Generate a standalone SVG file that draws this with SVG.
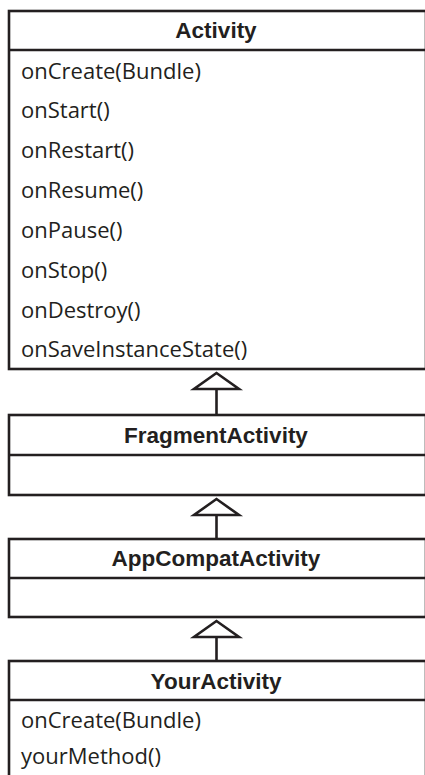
<svg xmlns="http://www.w3.org/2000/svg" width="425" height="775" viewBox="0 0 425 775">
<style>
.box{fill:#fff;stroke:#231f20;stroke-width:2.6}
.div{stroke:#231f20;stroke-width:2.6}
.title{font-family:"Liberation Sans",Arial,sans-serif;font-weight:bold;font-size:22.5px;fill:#231f20;text-anchor:middle}
.m{font-family:"Open Sans","Noto Sans",sans-serif;font-size:22px;fill:#231f20}
.conn{stroke:#231f20;stroke-width:2.6;fill:none}
</style>
<defs>
<marker id="gen" markerUnits="userSpaceOnUse" orient="auto" viewBox="-20 -26 24 52" refX="0" refY="0" markerWidth="24" markerHeight="52" overflow="visible">
<path d="M0,0 L-16,-22.5 L-16,22.5 Z" fill="#fff" stroke="#231f20" stroke-width="2.6" stroke-linejoin="miter"/>
</marker>
</defs>
<rect width="425" height="775" fill="#fff"/>
<g id="connectors">
<line class="conn" x1="216.5" y1="415" x2="216.5" y2="373" marker-end="url(#gen)"/>
<line class="conn" x1="216.5" y1="539" x2="216.5" y2="499" marker-end="url(#gen)"/>
<line class="conn" x1="216.5" y1="661" x2="216.5" y2="621" marker-end="url(#gen)"/>
</g>
<g id="Activity">
<rect class="box" x="9" y="11" width="417" height="358"/>
<line class="div" x1="9" y1="50" x2="426" y2="50"/>
<text class="title" x="216" y="38">Activity</text>
<text class="m" x="21" y="79">onCreate(Bundle)</text>
<text class="m" x="21" y="118">onStart()</text>
<text class="m" x="21" y="158">onRestart()</text>
<text class="m" x="21" y="198">onResume()</text>
<text class="m" x="21" y="238">onPause()</text>
<text class="m" x="21" y="278">onStop()</text>
<text class="m" x="21" y="318">onDestroy()</text>
<text class="m" x="21" y="357">onSaveInstanceState()</text>
</g>
<g id="FragmentActivity">
<rect class="box" x="9" y="415" width="417" height="80"/>
<line class="div" x1="9" y1="455" x2="426" y2="455"/>
<text class="title" x="216" y="443">FragmentActivity</text>
</g>
<g id="AppCompatActivity">
<rect class="box" x="9" y="539" width="417" height="78"/>
<line class="div" x1="9" y1="578" x2="426" y2="578"/>
<text class="title" x="216" y="566">AppCompatActivity</text>
</g>
<g id="YourActivity">
<rect class="box" x="9" y="661" width="417" height="130"/>
<line class="div" x1="9" y1="700" x2="426" y2="700"/>
<text class="title" x="216" y="689">YourActivity</text>
<text class="m" x="21" y="728">onCreate(Bundle)</text>
<text class="m" x="21" y="764">yourMethod()</text>
</g>
</svg>
